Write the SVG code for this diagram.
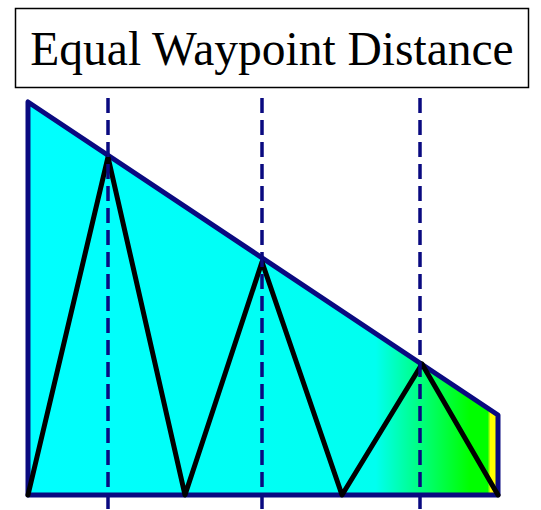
<svg xmlns="http://www.w3.org/2000/svg" width="541" height="510" viewBox="0 0 541 510">
<defs>
<linearGradient id="fillGrad" gradientUnits="userSpaceOnUse" x1="28" y1="0" x2="498" y2="0">
<stop offset="0" stop-color="#00FFFF"/>
<stop offset="0.74" stop-color="#00FFF0"/>
<stop offset="0.94" stop-color="#00FF00"/>
<stop offset="0.978" stop-color="#00FF00"/>
<stop offset="0.984" stop-color="#FFFF00"/>
<stop offset="1" stop-color="#FFFF00"/>
</linearGradient>
<style>
.guide{stroke:#0A0A80;stroke-width:3.5;stroke-dasharray:15 7;fill:none}
.outline{stroke:#0A0A80;stroke-width:5;stroke-linejoin:round;fill:url(#fillGrad)}
.zig{stroke:#000000;stroke-width:5;fill:none;stroke-linejoin:round;stroke-linecap:round}
.title{font-family:"Liberation Serif","Times New Roman",serif;font-size:47.5px;fill:#000}
</style>
</defs>
<rect width="541" height="510" fill="#FFFFFF"/>
<g id="title">
<rect x="15.5" y="8.5" width="513" height="79" fill="#FFFFFF" stroke="#000000" stroke-width="1.5"/>
<text class="title" x="272" y="65" text-anchor="middle">Equal Waypoint Distance</text>
</g>
<g id="region">
<polygon class="outline" points="28,102 28,495 498,495 498,415"/>
</g>
<g id="connectors">
<polyline class="zig" points="28,495 108,157 185,495 262,262 342,495 422,364 498,495"/>
<line class="guide" x1="108" y1="98" x2="108" y2="510"/>
<line class="guide" x1="262" y1="98" x2="262" y2="510"/>
<line class="guide" x1="420" y1="98" x2="420" y2="510"/>
</g>
</svg>
